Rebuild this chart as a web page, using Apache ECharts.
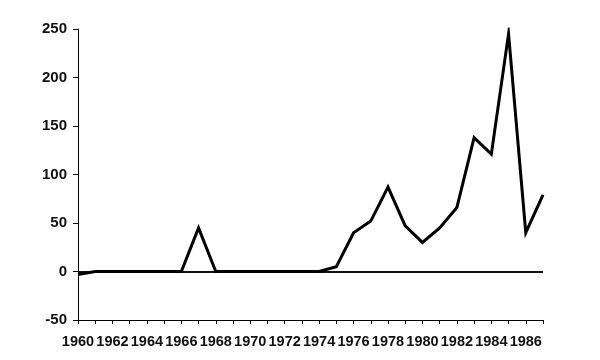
<!DOCTYPE html>
<html>
<head>
<meta charset="utf-8">
<script src="https://cdn.jsdelivr.net/npm/echarts@6/dist/echarts.min.js"></script>
<style>
html,body{margin:0;padding:0;background:#fff;}
#chart{width:600px;height:360px;}
</style>
</head>
<body>
<div id="chart"></div>
<script>
var years = ["1960","1961","1962","1963","1964","1965","1966","1967","1968","1969",
  "1970","1971","1972","1973","1974","1975","1976","1977","1978","1979",
  "1980","1981","1982","1983","1984","1985","1986","1987"];
var values = [-3,0,0,0,0,0,0,45,0,0,
  0,0,0,0,0,5,40,52,87,47,
  30,45,66,138,121,245,40,79];
var yTicks = [-50, 0, 50, 100, 150, 200, 250];

var chart = echarts.init(document.getElementById('chart'));
var font = '"Liberation Sans", Arial, sans-serif';
chart.setOption({
  animation: false,
  backgroundColor: '#fff',
  grid: {left: 78, right: 57, top: 29, bottom: 40},
  xAxis: {
    type: 'category',
    data: years,
    boundaryGap: false,
    axisLine: {onZero: false, lineStyle: {color: '#000', width: 1}},
    axisTick: {show: true, interval: 0, length: 4, lineStyle: {color: '#000'}},
    axisLabel: {interval: 1, color: '#111', fontFamily: font, fontWeight: 'bold', fontSize: 14.5, margin: 14},
    splitLine: {show: false}
  },
  yAxis: {
    type: 'value',
    min: yTicks[0],
    max: yTicks[yTicks.length - 1],
    interval: 50,
    axisLine: {show: true, lineStyle: {color: '#000', width: 1}},
    axisTick: {show: true, length: 5, lineStyle: {color: '#000'}},
    axisLabel: {color: '#111', fontFamily: font, fontWeight: 'bold', fontSize: 15, margin: 11},
    splitLine: {show: false}
  },
  series: [{
    type: 'line',
    data: values,
    symbol: 'none',
    lineStyle: {color: '#000', width: 3, join: 'miter', miterLimit: 12},
    z: 3,
    markLine: {
      silent: true,
      symbol: ['none', 'none'],
      label: {show: false},
      lineStyle: {color: '#111', width: 2, type: 'solid'},
      data: [{yAxis: 0}],
      z: 2
    }
  }]
});
</script>
</body>
</html>
